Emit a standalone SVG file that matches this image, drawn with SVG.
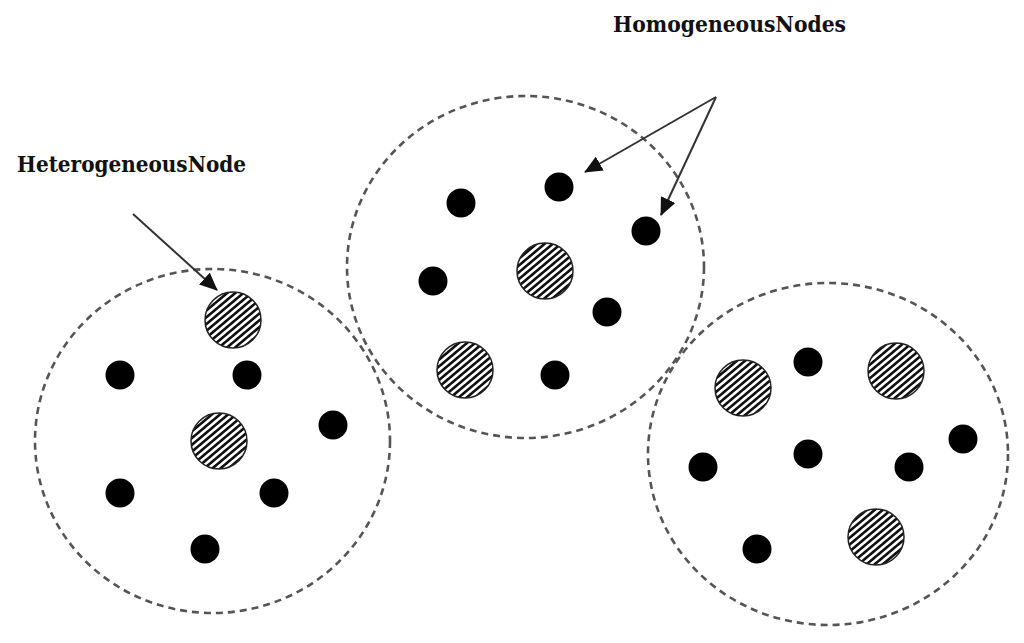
<svg xmlns="http://www.w3.org/2000/svg" width="1024" height="643" viewBox="0 0 1024 643">
<style>
.cluster{fill:none;stroke:#555;stroke-width:2.6;stroke-dasharray:7 5}
.dot{fill:#000}
.het{fill:url(#hatch);stroke:#222;stroke-width:1.5}
.conn{stroke:#333;stroke-width:2;fill:none;marker-end:url(#ah)}
.lbl{font-family:"DejaVu Serif","Liberation Serif",serif;font-weight:bold;font-size:22.5px;fill:#111}
</style>
<defs>
<pattern id="hatch" patternUnits="userSpaceOnUse" width="5.2" height="5.2" patternTransform="rotate(-40)">
<rect width="5.2" height="5.2" fill="#fff"/>
<rect width="5.2" height="2.6" fill="#111"/>
</pattern>
<marker id="ah" markerWidth="9" markerHeight="8" refX="8.5" refY="4" orient="auto" markerUnits="strokeWidth">
<path d="M0,0 L9,4 L0,8 Z" fill="#111"/>
</marker>
</defs>
<rect width="1024" height="643" fill="#fff"/>
<g id="clusters">
<ellipse id="cluster-left" class="cluster" cx="212.5" cy="441" rx="177.5" ry="172"/>
<ellipse id="cluster-middle" class="cluster" cx="525.5" cy="267" rx="178.5" ry="171"/>
<ellipse id="cluster-right" class="cluster" cx="828" cy="454" rx="180" ry="171"/>
</g>
<g id="nodes-left">
<circle id="L-h1" class="het" cx="233" cy="320" r="28"/>
<circle id="L-h2" class="het" cx="219" cy="441" r="28"/>
<circle id="L-d1" class="dot" cx="120" cy="375" r="14.5"/>
<circle id="L-d2" class="dot" cx="247" cy="375" r="14.5"/>
<circle id="L-d3" class="dot" cx="333" cy="425" r="14.5"/>
<circle id="L-d4" class="dot" cx="120" cy="493" r="14.5"/>
<circle id="L-d5" class="dot" cx="274" cy="493" r="14.5"/>
<circle id="L-d6" class="dot" cx="205" cy="549" r="14.5"/>
</g>
<g id="nodes-middle">
<circle id="M-h1" class="het" cx="545" cy="271" r="28"/>
<circle id="M-h2" class="het" cx="465" cy="370" r="28"/>
<circle id="M-d1" class="dot" cx="461" cy="203" r="14.5"/>
<circle id="M-d2" class="dot" cx="559" cy="187" r="14.5"/>
<circle id="M-d3" class="dot" cx="646" cy="231" r="14.5"/>
<circle id="M-d4" class="dot" cx="433" cy="281" r="14.5"/>
<circle id="M-d5" class="dot" cx="607" cy="312" r="14.5"/>
<circle id="M-d6" class="dot" cx="555" cy="375" r="14.5"/>
</g>
<g id="nodes-right">
<circle id="R-h1" class="het" cx="743" cy="388" r="28"/>
<circle id="R-h2" class="het" cx="896" cy="371" r="28"/>
<circle id="R-h3" class="het" cx="876" cy="537" r="28"/>
<circle id="R-d1" class="dot" cx="808" cy="362" r="14.5"/>
<circle id="R-d2" class="dot" cx="963" cy="439" r="14.5"/>
<circle id="R-d3" class="dot" cx="703" cy="467" r="14.5"/>
<circle id="R-d4" class="dot" cx="808" cy="454" r="14.5"/>
<circle id="R-d5" class="dot" cx="909" cy="467" r="14.5"/>
<circle id="R-d6" class="dot" cx="757" cy="549" r="14.5"/>
</g>
<g id="connectors">
<line class="conn" x1="133" y1="214" x2="217" y2="290"/>
<line class="conn" x1="716" y1="97" x2="585" y2="172"/>
<line class="conn" x1="716" y1="97" x2="661" y2="215"/>
</g>
<g id="labels">
<text class="lbl" x="613" y="32" textLength="233" lengthAdjust="spacingAndGlyphs">HomogeneousNodes</text>
<text class="lbl" x="17" y="172" textLength="229" lengthAdjust="spacingAndGlyphs">HeterogeneousNode</text>
</g>
</svg>
